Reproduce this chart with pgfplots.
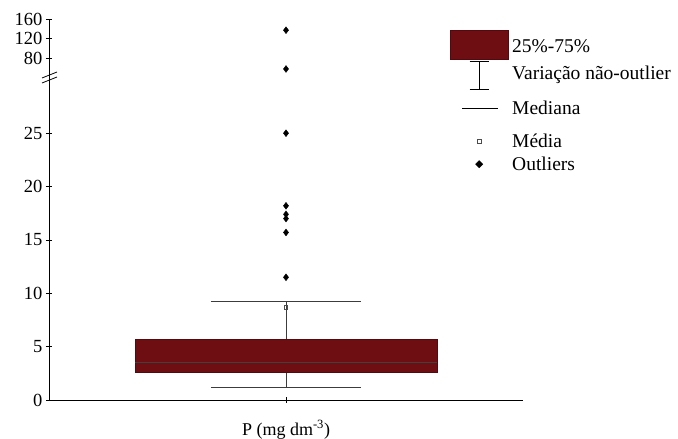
\documentclass[border=0pt]{standalone}
\usepackage{fontspec}
\setmainfont{Liberation Serif}
\usepackage{pgfplots}
\pgfplotsset{compat=1.18}
\definecolor{boxred}{RGB}{110,14,18}
\definecolor{wline}{RGB}{60,60,60}
\begin{document}
\begin{tikzpicture}
\path[use as bounding box] (0pt,0pt) rectangle (678pt,439pt);
\pgfplotsset{every axis/.append style={
  font=\fontsize{18}{21}\selectfont,
  scale only axis, width=474pt,
  xmin=-1, xmax=1,
  /pgf/number format/assume math mode=true,
  tick align=outside, major tick length=6pt,
  tick style={black, line width=0.6pt},
  every tick label/.append style={font=\fontsize{18.5}{21}\selectfont},
}}
% lower axis
\begin{axis}[
  at={(49pt,39pt)}, anchor=south west,
  height=323pt,
  ymin=0, ymax=30.27,
  axis x line=bottom, axis y line=left,
  axis line style={black, line width=0.9pt, -},
  xtick={0}, xticklabels={},
  ytick={0,5,10,15,20,25},
  xlabel={P (mg dm\textsuperscript{-3})},
  xlabel style={yshift=-7pt},
  clip=false,
]
\addplot[wline, line width=0.6pt] coordinates {(0,1.2) (0,9.2)};
\addplot[wline, line width=0.9pt] coordinates {(-0.317,9.2) (0.317,9.2)};
\addplot[wline, line width=0.9pt] coordinates {(-0.317,1.2) (0.317,1.2)};
\addplot[fill=boxred, draw=boxred!75!black, line width=0.6pt] coordinates {(-0.637,2.55) (0.637,2.55) (0.637,5.7) (-0.637,5.7)} -- cycle;
\addplot[black!75, line width=0.6pt] coordinates {(-0.637,3.5) (0.637,3.5)};
\addplot[only marks, mark=square, mark size=1.6pt, mark options={draw=black!70, fill=white, line width=0.4pt}] coordinates {(0,8.7)};
\addplot[only marks, mark=diamond*, mark size=3.4pt, mark options={draw=black, fill=black}] coordinates {(0,11.5) (0,15.7) (0,17.0) (0,17.4) (0,18.2) (0,25.0)};
\end{axis}
% upper axis
\begin{axis}[
  at={(49pt,362pt)}, anchor=south west,
  height=58pt,
  ymin=41, ymax=160,
  axis x line=none, axis y line=left,
  axis line style={black, line width=0.9pt, -},
  ytick={80,120,160},
  clip=false,
  legend style={draw=none, fill=none, at={(axis description cs:0.846,0.759)}, anchor=north west,
    inner sep=0pt, row sep=0pt, column sep=0pt,
    font=\fontsize{19.5}{22}\selectfont,
    nodes={inner xsep=4pt, inner ysep=0pt}},
  legend cell align=left,
]
\addplot[only marks, mark=diamond*, mark size=3.4pt, mark options={draw=black, fill=black}, forget plot] coordinates {(0,57.5) (0,137)};
\addlegendimage{legend image code/.code={\path[draw=none, fill=none, use as bounding box] (0pt,-13pt) rectangle (58pt,14pt); \fill[boxred, draw=boxred!75!black] (0pt,-12pt) rectangle (58pt,17pt);}}
\addlegendentry{25\%-75\%}
\addlegendimage{legend image code/.code={\path[draw=none, fill=none, use as bounding box] (0pt,-17pt) rectangle (58pt,13pt); \draw[black, line width=0.8pt] (19.5pt,-16pt) -- (38.5pt,-16pt) (29pt,-16pt) -- (29pt,12pt) (19.5pt,12pt) -- (38.5pt,12pt);}}
\addlegendentry{Variação não-outlier}
\addlegendimage{legend image code/.code={\path[draw=none, fill=none, use as bounding box] (0pt,-16pt) rectangle (58pt,18pt); \draw[black, line width=0.9pt] (12pt,0pt) -- (48pt,0pt);}}
\addlegendentry{Mediana}
\addlegendimage{legend image code/.code={\path[draw=none, fill=none, use as bounding box] (0pt,-11pt) rectangle (58pt,17pt); \draw[black!70, fill=white, line width=0.4pt] (27.4pt,-1.6pt) rectangle (30.6pt,1.6pt);}}
\addlegendentry{Média}
\addlegendimage{legend image code/.code={\path[draw=none, fill=none, use as bounding box] (0pt,-12pt) rectangle (58pt,12pt); \fill[black] (29pt,-3.6pt) -- (32.6pt,0pt) -- (29pt,3.6pt) -- (25.4pt,0pt) -- cycle;}}
\addlegendentry{Outliers}
\end{axis}
\draw[black, line width=0.8pt] (42pt,356pt) -- (57pt,362pt);
\draw[black, line width=0.8pt] (42pt,361pt) -- (57pt,367pt);
\end{tikzpicture}
\end{document}
